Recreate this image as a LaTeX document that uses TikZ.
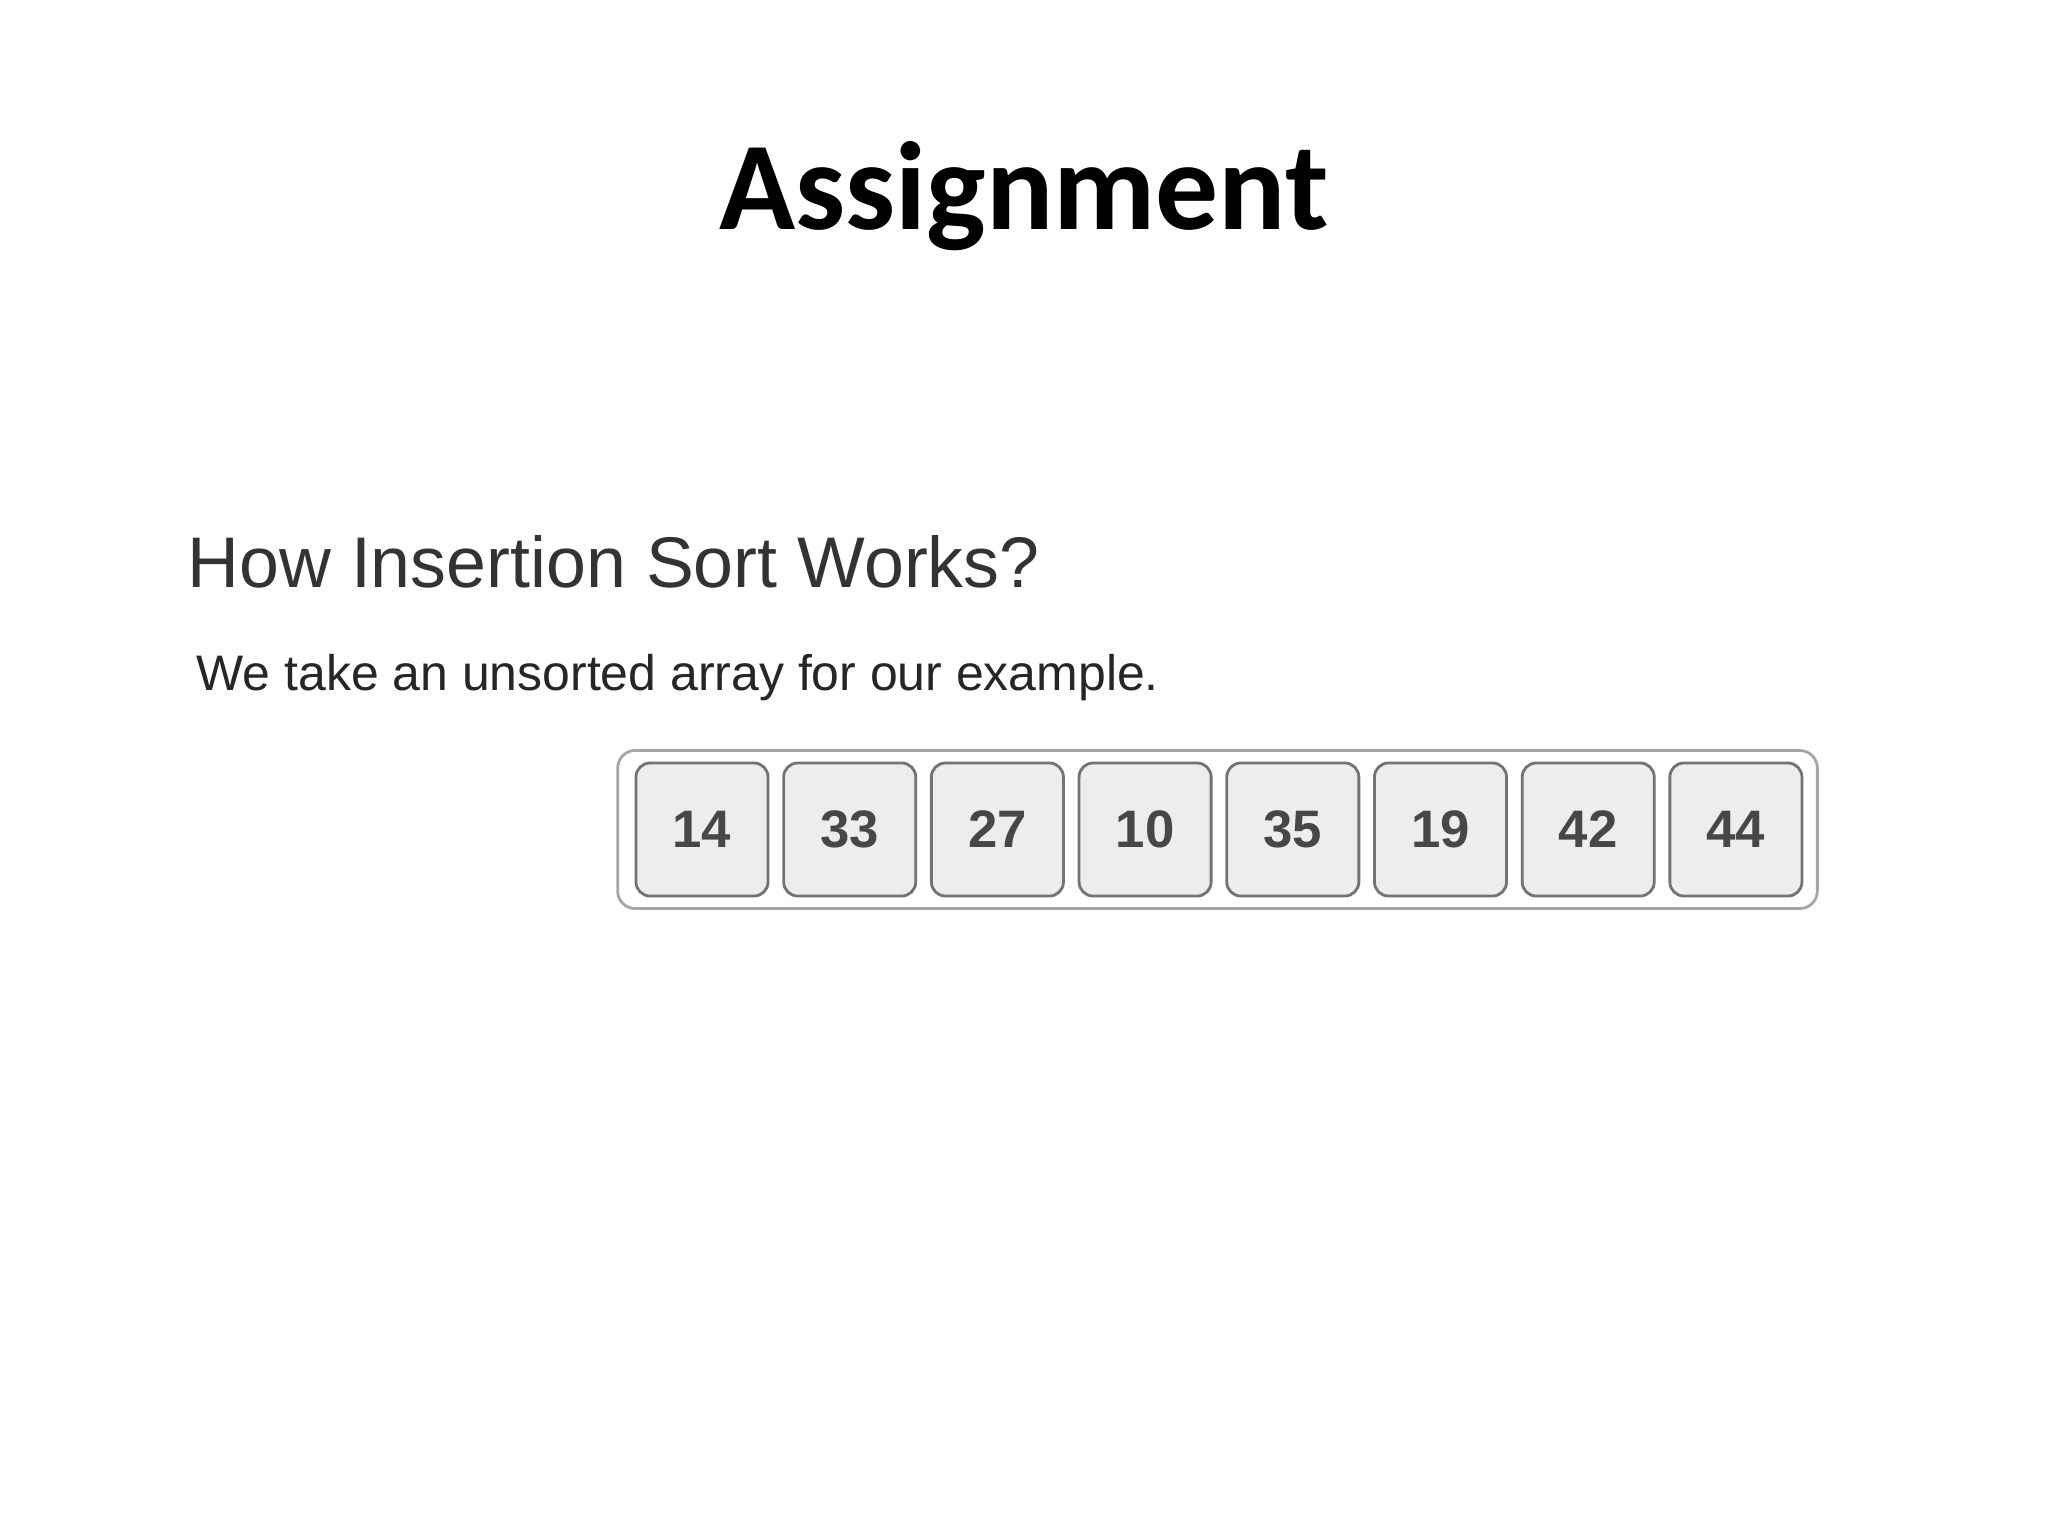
\documentclass[tikz,border=0pt]{standalone}
\usepackage{fontspec}
\setmainfont{Liberation Sans}
\newfontfamily\titlefont{Carlito}

\begin{document}
\begin{tikzpicture}[x=0.01cm, y=-0.01cm, node distance=0cm]

\path[use as bounding box, fill=white] (0,0) rectangle (2048,1536);

%% setup styles for the slide

\tikzstyle{slide title}=[font=\titlefont\fontsize{35.7}{42}\selectfont\bfseries, text=black, inner sep=0pt]
\tikzstyle{heading}=[anchor=west, inner sep=0pt, font=\fontsize{20.4}{25}\selectfont, text=black!80]
\tikzstyle{caption}=[anchor=west, inner sep=0pt, font=\fontsize{14.2}{18}\selectfont, text=black!85]
\tikzstyle{frame}=[draw=black!35, line width=0.8pt, rounded corners=5pt, minimum width=11.99cm, minimum height=1.58cm, inner sep=0pt]
\tikzstyle{cell}=[draw=black!55, fill=black!7, line width=0.8pt, rounded corners=4pt, minimum width=1.32cm, minimum height=1.33cm, inner sep=0pt, font=\fontsize{15}{18}\selectfont\bfseries, text=black!72]


%% define coordinate grid
\def \xleft {187}
\def \xfirst {702}
\def \cellsep {147.7}
\def \yrow {829.5}


% Draw the texts
\node[slide title] (title) at (1024,196) {Assignment};
\node[heading] (head) at (\xleft,562) {How Insertion Sort Works?};
\node[caption] (cap) at (\xleft+9,678) {We take an unsorted array for our example.};

% Draw the array frame
\node[frame] (array) at (1217.5,\yrow) {};

% Draw the array cells
\foreach \name/\val in {1/14,2/33,3/27,4/10,5/35,6/19,7/42,8/44}{
\node[cell] (A-\name) at (\xfirst+\name*\cellsep-\cellsep,\yrow) {\val};}

\end{tikzpicture}
\end{document}
